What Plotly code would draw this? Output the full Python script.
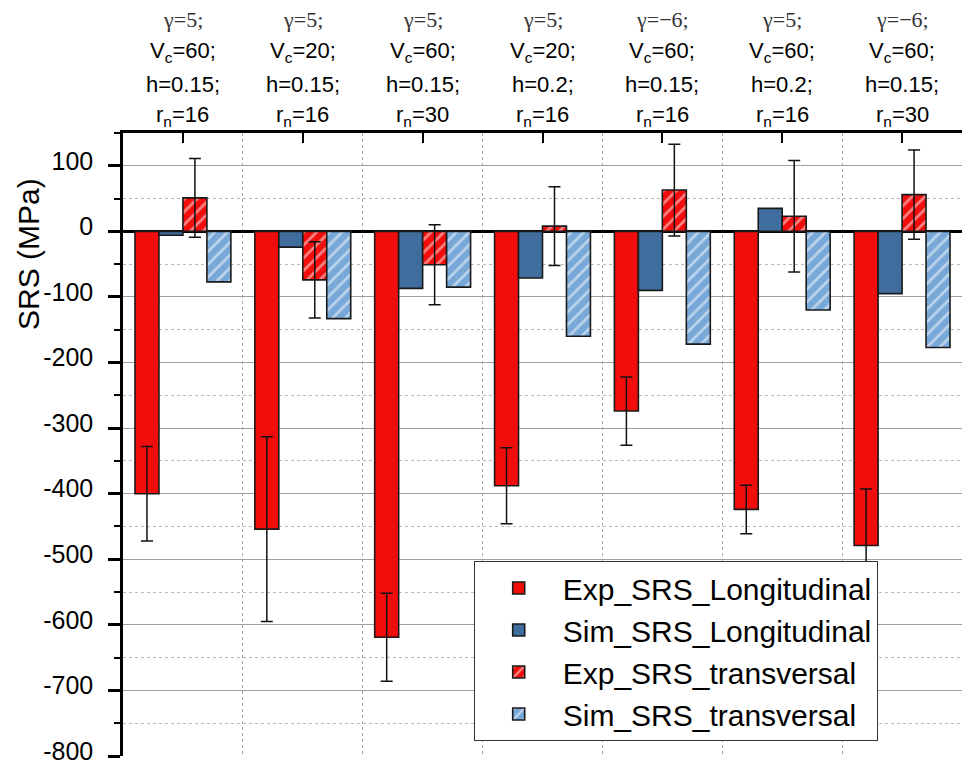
import plotly.graph_objects as go

# ---- data ----
gamma_labels = ["γ=5;", "γ=5;", "γ=5;", "γ=5;", "γ=−6;", "γ=5;", "γ=−6;"]
vc_labels = ["60", "20", "60", "20", "60", "60", "60"]
h_labels = ["0.15", "0.15", "0.15", "0.2", "0.15", "0.2", "0.15"]
rn_labels = ["16", "16", "30", "16", "16", "16", "30"]

y_tick_vals = [-800, -700, -600, -500, -400, -300, -200, -100, 0, 100]
y_tick_text = ["-800", "-700", "-600", "-500", "-400", "-300", "-200", "-100", "0", "100"]

exp_long = [-400, -454, -619, -388, -274, -424, -479]
exp_long_err = [72, 141, 67, 58, 52, 37, 86]
sim_long = [-6, -24, -87, -71, -90, 35, -95]
exp_trans = [51, -74, -51, 8, 63, 23, 56]
exp_trans_err = [60, 58, 61, 60, 70, 85, 68]
sim_trans = [-77, -133, -85, -160, -172, -120, -177]

series_names = ["Exp_SRS_Longitudinal", "Sim_SRS_Longitudinal",
                "Exp_SRS_transversal", "Sim_SRS_transversal"]

x = list(range(len(exp_long)))

RED = "#f20d0d"
BLUE = "#3f6e9e"
LBLUE = "#78a8d8"
EDGE = "#1a1a1a"
FONT = "Arial, Liberation Sans, sans-serif"
SERIF = "Times New Roman, Liberation Serif, serif"

fig = go.Figure()

err_style = dict(type="data", visible=True, color="#111111", thickness=1.5, width=6)

fig.add_trace(go.Bar(
    x=x, y=exp_long, name=series_names[0],
    marker=dict(color=RED, line=dict(color=EDGE, width=1.6)),
    error_y=dict(array=exp_long_err, **err_style),
))
fig.add_trace(go.Bar(
    x=x, y=sim_long, name=series_names[1],
    marker=dict(color=BLUE, line=dict(color=EDGE, width=1.6)),
))
fig.add_trace(go.Bar(
    x=x, y=exp_trans, name=series_names[2],
    marker=dict(color=RED, line=dict(color=EDGE, width=1.6),
                pattern=dict(shape="/", fgcolor="white", bgcolor=RED,
                             size=9, solidity=0.3, fillmode="overlay")),
    error_y=dict(array=exp_trans_err, **err_style),
))
fig.add_trace(go.Bar(
    x=x, y=sim_trans, name=series_names[3],
    marker=dict(color=LBLUE, line=dict(color=EDGE, width=1.6),
                pattern=dict(shape="/", fgcolor="white", bgcolor=LBLUE,
                             size=9, solidity=0.3, fillmode="overlay")),
))

# top condition labels (4 lines per group, anchored to each category on the x axis)
PLOT_H = 623.0
line_y = [1.0 + (133 - 20) / PLOT_H, 1.0 + (133 - 52) / PLOT_H,
          1.0 + (133 - 85) / PLOT_H, 1.0 + (133 - 116) / PLOT_H]
for i in x:
    fig.add_annotation(x=i, xref="x", y=line_y[0], yref="paper", yanchor="middle",
                       text=gamma_labels[i], showarrow=False,
                       font=dict(family=SERIF, size=22, color="#333333"))
    fig.add_annotation(x=i, xref="x", y=line_y[1], yref="paper", yanchor="middle",
                       text=f"V<sub>c</sub>={vc_labels[i]};", showarrow=False,
                       font=dict(family=FONT, size=22, color="#000000"))
    fig.add_annotation(x=i, xref="x", y=line_y[2], yref="paper", yanchor="middle",
                       text=f"h={h_labels[i]};", showarrow=False,
                       font=dict(family=FONT, size=22, color="#000000"))
    fig.add_annotation(x=i, xref="x", y=line_y[3], yref="paper", yanchor="middle",
                       text=f"r<sub>n</sub>={rn_labels[i]}", showarrow=False,
                       font=dict(family=FONT, size=22, color="#000000"))

# y-axis title placed as in the original (upper part of axis)
fig.add_annotation(x=0, xref="paper", xshift=-95, xanchor="center",
                   y=(756 - 254) / PLOT_H, yref="paper", yanchor="middle",
                   text="SRS (MPa)", textangle=-90, showarrow=False,
                   font=dict(family=FONT, size=30, color="#000000"))

fig.update_layout(
    width=965, height=764,
    margin=dict(l=123, r=3, t=133, b=8, autoexpand=False),
    paper_bgcolor="white", plot_bgcolor="white",
    barmode="group", bargap=0.2, bargroupgap=0.0,
    font=dict(family=FONT, color="#000000"),
    legend=dict(
        x=0.418, y=0.313, xanchor="left", yanchor="top",
        font=dict(family=FONT, size=30, color="#000000"),
        bgcolor="white", bordercolor="#333333", borderwidth=1,
        tracegroupgap=0, itemwidth=78,
    ),
    xaxis=dict(
        range=[-0.5, 6.5], side="top", tickmode="array", tickvals=x,
        ticktext=["" for _ in x], ticks="inside", ticklen=10, tickwidth=2,
        tickcolor="#000000", automargin=False,
        showline=True, linecolor="#000000", linewidth=2.5, mirror=False,
        showgrid=False, zeroline=False,
        minor=dict(tick0=0.5, dtick=1, showgrid=True, griddash="dot",
                   gridcolor="#aaaaaa", gridwidth=1, ticks=""),
    ),
    yaxis=dict(
        range=[-800, 150], tickmode="array", tickvals=y_tick_vals, ticktext=y_tick_text,
        ticks="outside", ticklen=12, tickwidth=2.5, tickcolor="#000000",
        ticklabeloverflow="allow", ticklabelshift=-5, ticklabelstandoff=10,
        automargin=False,
        showline=True, linecolor="#000000", linewidth=2.5,
        showgrid=True, gridcolor="#a0a0a0", gridwidth=1,
        zeroline=True, zerolinecolor="#000000", zerolinewidth=2.5,
        tickfont=dict(family=FONT, size=25, color="#000000"),
        minor=dict(tick0=-750, dtick=100, ticks="outside", ticklen=6, tickwidth=2,
                   tickcolor="#000000", showgrid=True, griddash="dot",
                   gridcolor="#bbbbbb", gridwidth=1),
    ),
)

fig.write_html("out.html", config={"displayModeBar": False},
               post_script="document.body.style.margin='0';")
